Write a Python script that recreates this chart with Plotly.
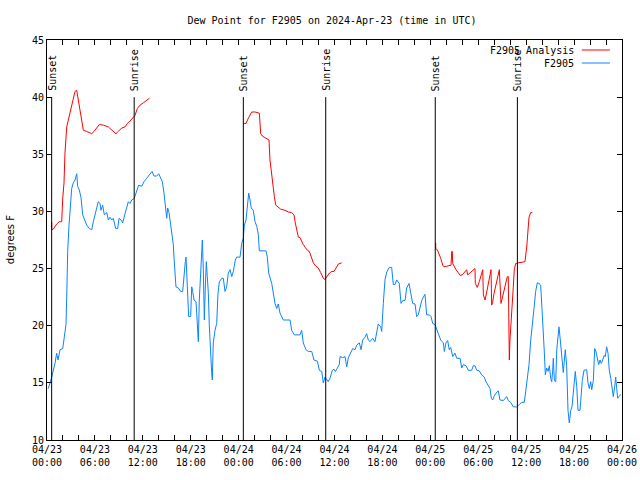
import pandas as pd
import plotly.graph_objects as go

BASE = pd.Timestamp("2024-04-23 00:00")

# ---- F2905 observations (hours since 04/23 00:00 UTC, dew point F)
obs_hours = [0.16, 0.38, 0.59, 1.0, 1.21, 1.38, 1.63, 1.97, 2.13, 2.38, 2.47, 2.59, 2.75, 2.97, 3.09, 3.29,
             3.51, 3.72, 3.84, 4.04, 4.26, 4.47, 4.76, 4.97, 5.30, 5.60, 5.80, 6.14, 6.42, 6.64, 6.76, 6.97,
             7.18, 7.48, 7.68, 7.89, 8.10, 8.30, 8.60, 8.85, 9.02, 9.27, 9.48, 9.77, 9.98, 10.18, 10.39, 10.61,
             10.93, 11.23, 11.48, 11.86, 12.15, 12.48, 12.81, 13.15, 13.40, 13.74, 13.99, 14.24, 14.44, 14.65,
             14.86, 14.99, 15.11, 15.28, 15.49, 15.69, 15.82, 15.90, 16.03, 16.15, 16.44, 16.74, 16.99, 17.15,
             17.32, 17.41, 17.49, 17.62, 17.74, 17.99, 18.12, 18.24, 18.41, 18.66, 18.82, 18.95, 19.07, 19.25,
             19.37, 19.45, 19.57, 19.70, 19.82, 19.95, 20.07, 20.20, 20.32, 20.50, 20.62, 20.70, 20.82, 21.04,
             21.25, 21.41, 21.58, 21.88, 22.08, 22.29, 22.50, 22.70, 22.92, 23.13, 23.33, 23.58, 23.75, 24.17,
             24.38, 24.58, 24.71, 24.92, 25.08, 25.26, 25.42, 25.58, 25.83, 26.05, 26.26, 26.46, 26.59, 27.42,
             27.59, 27.76, 28.14, 28.34, 28.55, 28.76, 28.96, 29.18, 29.59, 30.43, 30.64, 30.97, 31.68, 31.89,
             32.09, 32.43, 32.72, 33.15, 33.43, 33.85, 34.10, 34.40, 34.60, 34.81, 35.02, 35.22, 35.44, 35.73,
             35.94, 36.10, 36.28, 36.60, 36.69, 37.03, 37.32, 37.53, 37.73, 38.03, 38.28, 38.57, 38.78, 39.11,
             39.32, 39.53, 39.82, 40.03, 40.23, 40.45, 40.78, 41.07, 41.28, 41.48, 41.79, 41.91, 42.11, 42.32,
             42.54, 42.86, 43.16, 43.36, 43.57, 43.79, 44.11, 44.33, 44.54, 44.83, 45.04, 45.33, 45.54, 45.79,
             46.08, 46.29, 46.49, 46.71, 46.92, 47.12, 47.33, 47.54, 47.87, 48.08, 48.30, 48.59, 48.80, 49.00,
             49.30, 49.63, 49.75, 49.96, 50.17, 50.37, 50.55, 50.68, 50.80, 51.09, 51.30, 51.72, 51.93, 52.13,
             52.47, 52.76, 53.18, 53.38, 53.59, 53.81, 54.13, 54.43, 54.76, 54.97, 55.26, 55.47, 55.64, 55.81,
             55.97, 56.22, 56.51, 56.72, 57.14, 57.35, 57.56, 57.76, 58.06, 58.39, 58.81, 59.14, 59.44, 59.77,
             59.98, 60.14, 60.36, 60.57, 60.77, 60.98, 61.19, 61.39, 61.64, 61.82, 61.98, 62.15, 62.27, 62.40,
             62.57, 62.74, 62.90, 63.07, 63.20, 63.32, 63.40, 63.53, 63.70, 63.83, 63.99, 64.11, 64.24, 64.40,
             64.52, 64.65, 64.77, 64.90, 65.07, 65.24, 65.40, 65.58, 65.74, 65.90, 66.03, 66.15, 66.33, 66.49,
             66.74, 66.91, 67.03, 67.24, 67.58, 67.74, 67.91, 68.08, 68.21, 68.41, 68.58, 68.75, 68.91, 69.08,
             69.25, 69.41, 69.58, 69.75, 69.91, 70.08, 70.25, 70.41, 70.59, 70.75, 70.91, 71.09, 71.21, 71.34,
             71.46, 71.63, 71.85]
obs_dewpt = [14.5, 15.0, 15.5, 16.7, 17.6, 17.0, 17.9, 18.0, 18.9, 20.1, 22.5, 26.5, 28.7, 31.1, 32.0, 32.5,
             32.75, 33.3, 32.2, 31.9, 31.2, 29.7, 29.25, 28.8, 28.5, 28.4, 29.1, 30.1, 30.85, 30.7, 30.1, 30.55,
             29.7, 29.9, 29.25, 29.5, 29.25, 29.4, 28.5, 28.5, 29.4, 29.25, 29.0, 29.8, 30.4, 30.85, 30.7, 31.0,
             31.15, 31.9, 32.3, 32.2, 32.6, 32.9, 33.2, 33.5, 33.1, 33.1, 33.3, 32.9, 32.6, 31.6,
             30.0, 29.4, 30.3, 29.9, 28.8, 27.9, 27.1, 26.0, 25.0, 23.4, 23.3, 23.0, 23.0, 24.6,
             25.6, 26.0, 24.6, 22.1, 20.8, 20.8, 23.4, 23.0, 22.25, 22.1, 19.8, 18.6, 22.25, 24.6,
             26.5, 27.5, 25.0, 20.5, 23.3, 25.6, 24.3, 22.9, 20.1, 16.7, 15.9, 15.25, 18.5, 19.6,
             20.2, 22.8, 23.85, 24.15, 24.15, 23.0, 23.4, 24.6, 24.9, 24.3, 24.75, 25.75, 26.0, 26.0,
             27.2, 27.65, 28.8, 29.25, 30.4, 31.6, 31.0, 30.3, 30.1, 29.1, 28.7, 28.0, 26.55, 26.55,
             26.0, 24.6, 23.7, 22.7, 21.95, 21.5, 21.9, 21.1, 20.5, 20.5, 19.6, 19.2, 19.2, 19.6,
             18.5, 17.9, 17.75, 17.75, 17.0, 16.9, 16.1, 16.0, 15.0, 15.5, 15.3, 15.1, 15.4, 16.1,
             16.2, 16.0, 16.2, 16.6, 17.3, 17.2, 17.3, 16.4, 17.2, 17.6, 18.0, 17.9, 18.3, 18.5,
             17.9, 18.75, 19.0, 19.3, 18.75, 18.6, 18.9, 18.6, 19.6, 20.15, 19.9, 19.5, 21.95, 24.0,
             24.7, 25.1, 25.1, 23.6, 23.6, 24.0, 23.7, 21.95, 22.2, 22.2, 23.3, 23.7, 22.9, 21.95,
             21.9, 20.8, 20.95, 21.7, 22.2, 22.5, 22.75, 20.95, 20.95, 20.8, 20.2, 20.1, 19.6, 19.3,
             18.75, 18.5, 17.75, 18.5, 18.7, 17.9, 18.1, 17.7, 17.3, 17.6, 17.15, 17.15, 16.3, 16.6,
             16.5, 16.1, 16.1, 16.5, 16.5, 16.1, 16.05, 15.7, 15.5, 15.1, 14.8, 14.5, 13.65, 13.5,
             13.8, 14.1, 14.3, 13.5, 13.45, 13.65, 13.8, 13.45, 13.3, 12.9, 12.9, 13.1, 13.3, 13.3,
             14.5, 15.2, 16.6, 18.75, 19.9, 21.5, 23.0, 23.75, 23.7, 23.5, 21.5, 19.6, 17.7, 15.7,
             16.3, 16.0, 16.5, 15.4, 15.1, 16.1, 17.15, 15.2, 15.1, 17.9, 19.5, 19.9, 19.0, 17.6,
             16.5, 15.9, 16.9, 17.9, 16.5, 12.6, 11.5, 12.6, 12.9, 14.25, 15.2, 16.0, 14.7, 12.6,
             12.6, 14.5, 15.2, 16.1, 16.15, 15.0, 14.5, 15.1, 14.4, 15.2, 18.0, 17.7, 17.15, 16.6,
             17.0, 16.7, 17.0, 17.4, 17.3, 18.15, 17.6, 16.1, 15.4, 14.7, 13.8, 14.7, 15.5, 14.5,
             13.65, 13.8, 14.0]

# ---- F2905 Analysis, three separate nightly runs
ana1_hours = [0.59, 0.60, 0.79, 1.21, 1.54, 1.84, 1.97, 2.13, 2.25, 2.47, 2.67, 2.97, 3.22, 3.51, 3.72, 3.92,
              4.13, 4.35, 4.55, 4.97, 5.60, 5.89, 6.22, 6.55, 7.05, 7.68, 7.98, 8.30, 8.64, 8.93, 9.35, 9.77,
              10.06, 10.39, 10.73, 11.02, 11.31, 11.65, 12.06, 12.40, 12.81]
ana1_dewpt = [29.1, 28.4, 28.45, 28.9, 29.1, 29.1, 31.15, 32.5, 35.1, 37.4, 38.0, 38.9, 39.6, 40.5, 40.6, 39.75,
              38.75, 37.85, 37.1, 37.0, 36.8, 37.0, 37.3, 37.6, 37.55, 37.4, 37.2, 37.0, 36.8, 37.0, 37.3, 37.4,
              37.7, 37.9, 38.2, 38.4, 39.0, 39.3, 39.5, 39.7, 39.9]
ana2_hours = [24.58, 24.92, 25.21, 25.63, 26.05, 26.59, 26.76, 26.96, 27.30, 27.59, 27.80, 27.92, 28.05, 28.21,
              28.34, 28.47, 28.64, 28.96, 29.26, 29.80, 30.22, 30.64, 30.93, 31.09, 31.27, 31.47, 31.68, 31.89,
              32.09, 32.34, 32.60, 32.85, 33.15, 33.35, 33.68, 33.97, 34.27, 34.60, 34.81, 35.10, 35.35, 35.65,
              35.94, 36.19, 36.48, 36.90]
ana2_dewpt = [37.7, 37.7, 38.15, 38.7, 38.7, 38.6, 36.8, 36.6, 36.45, 36.3, 36.25, 34.5, 33.6, 32.9,
              32.15, 31.3, 30.55, 30.35, 30.2, 30.1, 29.95, 29.9, 29.7, 29.0, 28.4, 27.75, 27.7, 27.3,
              27.1, 26.85, 26.6, 26.5, 25.9, 25.5, 25.2, 25.05, 24.65, 24.15, 24.05, 24.3, 24.6, 24.75,
              24.75, 25.05, 25.4, 25.5]
ana3_hours = [48.67, 48.68, 48.87, 49.09, 49.30, 49.55, 49.71, 50.05, 50.37, 50.59, 50.68, 50.75, 50.80, 51.00,
              51.21, 51.50, 51.72, 52.00, 52.34, 52.55, 52.68, 52.97, 53.30, 53.59, 53.63, 53.88, 54.13, 54.35,
              54.56, 54.64, 54.85, 55.06, 55.26, 55.47, 55.60, 55.68, 55.81, 55.97, 56.18, 56.43, 56.64, 56.85,
              57.01, 57.23, 57.44, 57.64, 57.76, 57.81, 57.89, 57.97, 58.10, 58.23, 58.39, 58.51, 58.69, 59.02,
              59.44, 59.85, 60.07, 60.19, 60.36, 60.57, 60.77]
ana3_dewpt = [27.25, 26.75, 26.65, 26.3, 25.9, 25.3, 25.15, 25.2, 25.3, 25.3, 26.5, 26.5, 25.45, 25.1,
              24.9, 24.65, 24.4, 24.45, 24.7, 24.9, 24.45, 24.6, 24.8, 25.0, 23.7, 23.35, 23.85, 24.3,
              24.9, 22.7, 22.25, 22.95, 23.7, 24.4, 24.9, 21.8, 22.1, 22.8, 23.5, 24.3, 24.9, 21.95,
              22.4, 22.95, 23.7, 24.3, 24.3, 20.8, 17.0, 18.75, 20.6, 21.2, 23.4, 24.9, 25.45, 25.5,
              25.55, 25.6, 26.9, 27.8, 29.5, 29.9, 29.9]

# ---- sun events
sun_labels = ["Sunset", "Sunrise", "Sunset", "Sunrise", "Sunset", "Sunrise"]
sun_times = ["2024-04-23 00:35", "2024-04-23 10:55", "2024-04-24 00:35",
             "2024-04-24 10:54", "2024-04-25 00:37", "2024-04-25 10:54"]

tick_hours = list(range(0, 73, 2))
title_text = "Dew Point for F2905 on 2024-Apr-23 (time in UTC)"

RED = "#ff0000"
BLUE = "#0a84ff"
FONT = "DejaVu Sans Mono"

FIG_W, FIG_H = 640, 480


def to_time(hours):
    return [BASE + pd.Timedelta(hours=h) for h in hours]


ana_x, ana_y = [], []
for hs, vs in [(ana1_hours, ana1_dewpt), (ana2_hours, ana2_dewpt), (ana3_hours, ana3_dewpt)]:
    ana_x += to_time(hs) + [None]
    ana_y += vs + [None]

fig = go.Figure()
fig.add_trace(go.Scatter(x=ana_x, y=ana_y, mode="lines", name="F2905 Analysis",
                         line=dict(color=RED, width=1), connectgaps=False))
fig.add_trace(go.Scatter(x=to_time(obs_hours), y=obs_dewpt, mode="lines", name="F2905",
                         line=dict(color=BLUE, width=1)))

shapes = []
annotations = []
for lab, t in zip(sun_labels, sun_times):
    shapes.append(dict(type="line", xref="x", yref="y", x0=t, x1=t, y0=10, y1=40,
                       line=dict(color="black", width=1)))
    annotations.append(dict(x=t, y=40, xref="x", yref="y", text=lab, showarrow=False,
                            textangle=-90, xanchor="center", yanchor="bottom", yshift=4,
                            font=dict(family=FONT, size=10, color="black")))

# gnuplot-style key: text then line sample
for i, (name, col) in enumerate([("F2905 Analysis", RED), ("F2905", BLUE)]):
    ypos = 0.975 - i * 0.0325
    annotations.append(dict(x=0.92, y=ypos, xref="paper", yref="paper", text=name,
                            showarrow=False, xanchor="right", yanchor="middle",
                            font=dict(family=FONT, size=10, color="black")))
    shapes.append(dict(type="line", xref="paper", yref="paper", x0=0.930, x1=0.979,
                       y0=ypos, y1=ypos, line=dict(color=col, width=1)))

annotations.append(dict(x=-0.064, y=0.5, xref="paper", yref="paper", text="degrees F",
                        showarrow=False, textangle=-90, xanchor="center", yanchor="middle",
                        font=dict(family="DejaVu Sans", size=10, color="black")))

tickvals = to_time(tick_hours)
ticktext = [(t.strftime("%m/%d") + "<br>" + t.strftime("%H:%M")) if h % 6 == 0 else ""
            for h, t in zip(tick_hours, tickvals)]

fig.update_layout(
    width=FIG_W, height=FIG_H,
    margin=dict(l=47, r=18, t=40, b=40, autoexpand=False),
    paper_bgcolor="white", plot_bgcolor="white",
    showlegend=False,
    title=dict(text=title_text, x=332 / FIG_W, xanchor="center", y=1 - 20 / FIG_H, yanchor="middle",
               xref="container", yref="container",
               font=dict(family=FONT, size=10, color="black")),
    font=dict(family=FONT, size=10, color="black"),
    shapes=shapes, annotations=annotations,
)
fig.update_xaxes(range=[BASE, BASE + pd.Timedelta(hours=72)], tickvals=tickvals, ticktext=ticktext,
                 ticks="inside", ticklen=5, tickcolor="black", showline=True, linecolor="black",
                 linewidth=1, mirror="ticks", showgrid=False, zeroline=False, automargin=False,
                 tickfont=dict(family=FONT, size=10, color="black"))
fig.update_yaxes(range=[10, 45], tickvals=[10, 15, 20, 25, 30, 35, 40, 45],
                 ticks="inside", ticklen=5, tickcolor="black", showline=True, linecolor="black",
                 linewidth=1, mirror="ticks", showgrid=False, zeroline=False, automargin=False,
                 tickfont=dict(family=FONT, size=10, color="black"))

# remove the default 8px page margin so the 640x480 figure fills the window exactly
fig.write_html("out.html", config={"displayModeBar": False},
               post_script="document.body.style.margin='0px';document.body.style.overflow='hidden';")
